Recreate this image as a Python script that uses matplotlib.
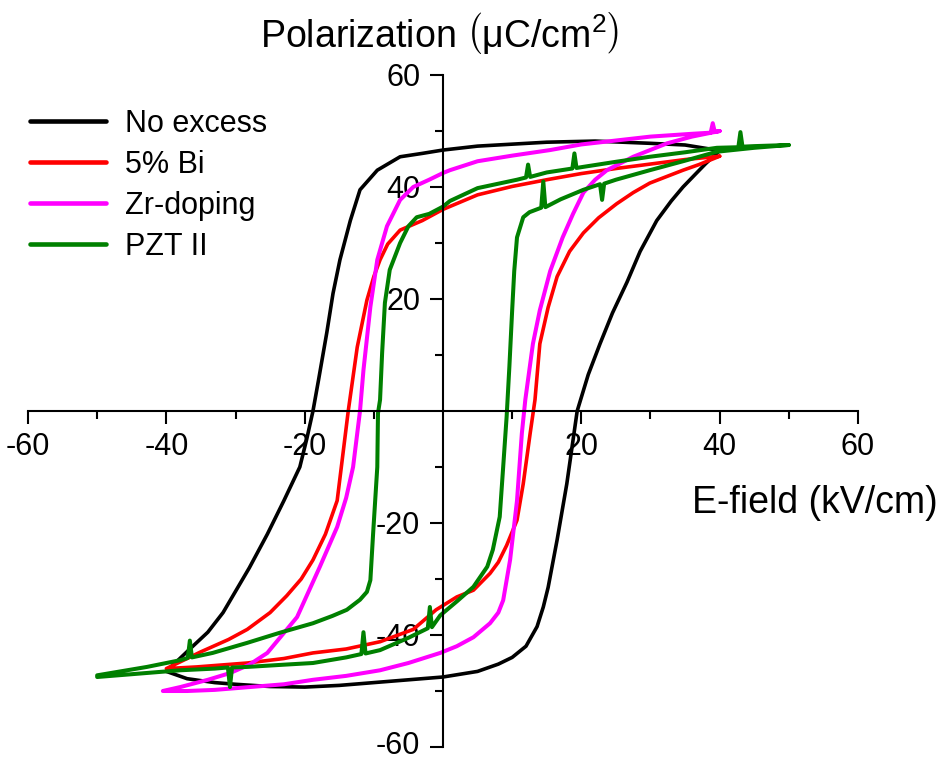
import matplotlib
matplotlib.use("Agg")
import matplotlib.pyplot as plt
from matplotlib.ticker import FixedLocator
from matplotlib.transforms import ScaledTranslation

plt.rcParams['font.family'] = ['Liberation Sans', 'DejaVu Sans']
plt.rcParams['mathtext.fontset'] = 'custom'
plt.rcParams['mathtext.rm'] = 'Liberation Sans'
plt.rcParams['mathtext.it'] = 'Liberation Sans:italic'

# ---------------- data (E in kV/cm, P in uC/cm^2) ----------------
labels = ["No excess", "5% Bi", "Zr-doping", "PZT II"]
colors = ["#000000", "#ff0000", "#ff00ff", "#008000"]

# No excess
black_up_E = [40, 35, 30, 22, 15, 5, 0, -3, -6.2, -9.5, -12, -13.4, -14.9, -15.9, -16.8, -18, -18.8, -19.7,
              -20.7, -23, -25.4, -28, -31.8, -34, -36.6, -40]
black_up_P = [46.5, 47.5, 47.8, 48.2, 48, 47.3, 46.6, 46, 45.4, 43, 39.5, 34, 27, 21, 14, 5.5, 0, -5,
              -10, -16, -22, -28, -36, -39.5, -42.5, -46.5]
black_lo_E = [-40, -37, -33, -30, -25, -20, -15, -10, -5, 0, 5, 8, 10, 12, 13.6, 14.5, 15.2, 16.5, 17.9,
              19.4, 21, 22.7, 24.5, 26.6, 28.5, 30.9, 33, 34.7, 36.5, 38, 40]
black_lo_P = [-46.5, -47.8, -48.5, -48.8, -49.2, -49.3, -49, -48.5, -48, -47.5, -46.5, -45.2, -44, -42,
              -38.5, -35, -31.5, -23, -13, 0, 6.5, 12, 17.5, 23, 28.5, 34, 37.5, 40, 42.3, 44.2, 46.5]

# 5% Bi
red_up_E = [40, 35, 30, 25, 20, 15, 10, 5, 0, -3, -6.2, -8, -9.1, -10, -11, -12.4, -13.7, -14.5, -15.3,
            -17, -18.8, -20.5, -22.6, -25, -28.3, -31, -35, -40]
red_up_P = [45.5, 44.9, 44.1, 43.3, 42.4, 41.3, 40.1, 38.6, 36, 34, 32.3, 29.8, 27, 24, 19.8, 11.4, 0, -8,
            -16, -22, -26.6, -30, -33, -36, -39, -40.8, -43, -46]
red_lo_E = [-40, -35.6, -28.3, -23, -18.8, -14, -9.1, -4.3, -1, 2, 4.4, 6.8, 8, 9.2, 10.7, 11.6, 12.6,
            13.3, 14, 15.2, 16.5, 18.3, 20.3, 22.5, 25.1, 27.5, 29.9, 34.7, 37, 40]
red_lo_P = [-46, -45.7, -45, -44.2, -43.2, -42.5, -41.2, -39, -35.5, -33.2, -32, -29, -27, -24, -19.5,
            -13, -4, 2, 12, 18.5, 24, 28.5, 31.8, 34.5, 37, 39, 40.7, 43, 44, 45.5]

# Zr-doping
mag_up_E = [40, 39.3, 39, 38.7, 36, 30, 25, 20, 15.5, 10, 5, 1, 0, -2, -4.3, -6.2, -8.1, -9.5, -10.5,
            -11.5, -12, -13, -14, -15.3, -17.8, -21.1, -25.4, -28, -30.8, -34, -38, -40.5]
mag_up_P = [50, 49.8, 51.4, 49.7, 49.5, 49, 48.3, 47.6, 46.6, 45.6, 44.6, 43, 42.5, 41.3, 40, 37.7, 33,
            27, 18.6, 7.3, 0, -10, -15.5, -20.7, -27.8, -36.8, -43.2, -45.3, -46.8, -48, -49.3, -50]
mag_lo_E = [-40.5, -37, -33, -28, -23, -18.8, -14, -9.1, -5, -0.4, 2, 4.4, 6.8, 8, 8.7, 9.7, 10.7, 11.4,
            11.9, 13, 14, 15.5, 17.3, 18.8, 20.3, 22, 23.7, 27.5, 32.4, 36, 40]
mag_lo_P = [-50, -50, -49.8, -49.3, -48.8, -48, -47.3, -46.3, -45, -43.2, -42, -40.4, -37.9, -36, -33.8,
            -26.6, -16, -4, 2, 12, 18, 25, 31, 35.2, 39, 41.3, 43, 45.4, 47.8, 49, 50]

# PZT II (a few narrow measurement spikes kept)
grn_up_E = [50, 45, 43.3, 43, 42.7, 39.6, 35, 29.9, 25, 20.3, 19.3, 19, 18.7, 15, 12.6, 12.3, 12, 10.7,
            5, 1, 0, -2, -3.8, -5, -6.2, -7.7, -8.4, -8.8, -9.1, -9.4, -9.5, -10.1, -10.5, -11, -12,
            -13.9, -16, -18.8, -23.6, -28.3, -33.3, -36.3, -36.6, -36.9, -38, -42.8, -50]
grn_up_P = [47.5, 47.3, 47.2, 49.8, 47.1, 47, 46.2, 45.4, 44.5, 43.6, 43.4, 46, 43.3, 42.6, 41.8, 44,
            41.7, 41.3, 39.8, 37.5, 36.5, 35.2, 34.6, 33, 30, 25.2, 19.3, 10.4, 2, -0.4, -10, -21.8,
            -30.2, -32.3, -33.7, -35.5, -36.6, -37.9, -39.6, -41.4, -43.2, -44, -41, -44.1, -44.5,
            -45.7, -47.2]
grn_lo_E = [-50, -45, -38, -33, -31.1, -30.8, -30.5, -28.3, -23, -18.8, -14, -11.8, -11.5, -11.2, -9.1,
            -5, -2.2, -1.9, -1.6, -0.4, 2, 4.4, 6.4, 7.2, 8.2, 8.7, 9.2, 9.6, 10, 10.3, 10.7, 11.6, 12.5,
            14.2, 14.5, 14.8, 17, 20.3, 22.7, 23, 23.3, 25, 29.9, 35, 39.6, 45, 50]
grn_lo_P = [-47.5, -47, -46.3, -46, -45.8, -49.3, -45.8, -45.7, -45.3, -45, -44, -43.4, -39.5, -43.3,
            -42.7, -40.5, -38.8, -35, -38.6, -36.5, -34, -31.4, -27.8, -24.8, -18.9, -10, -1, 8, 18, 25,
            31, 34.6, 35.5, 36.3, 41, 36.4, 37.8, 39.5, 40.5, 37.7, 40.6, 41.3, 43, 44.7, 46.3, 47, 47.5]

loops = [
    (black_up_E + black_lo_E, black_up_P + black_lo_P),
    (red_up_E + red_lo_E, red_up_P + red_lo_P),
    (mag_up_E + mag_lo_E, mag_up_P + mag_lo_P),
    (grn_up_E + grn_lo_E, grn_up_P + grn_lo_P),
]
widths = [2.6, 2.6, 2.9, 2.9]

x_major = [-60, -40, -20, 20, 40, 60]
x_minor = [-50, -30, -10, 10, 30, 50]
y_major = [-60, -40, -20, 20, 40, 60]
y_minor = [-50, -30, -10, 10, 30, 50]

# ---------------- figure ----------------
W, H = 945, 760
fig = plt.figure(figsize=(W / 100, H / 100), dpi=100)
ax = fig.add_axes([28 / W, 1 - 747 / H, 830 / W, 672 / H])
ax.set_xlim(-60, 60)
ax.set_ylim(-60, 60)

for (E, P), c, lab, lw in zip(loops, colors, labels, widths):
    ax.plot(E, P, color=c, lw=lw, label=lab, solid_joinstyle='round', solid_capstyle='round')

ax.spines['left'].set_position('zero')
ax.spines['bottom'].set_position('zero')
ax.spines['top'].set_visible(False)
ax.spines['right'].set_visible(False)
for s in ('left', 'bottom'):
    ax.spines[s].set_linewidth(1.5)

ax.xaxis.set_major_locator(FixedLocator(x_major))
ax.xaxis.set_minor_locator(FixedLocator(x_minor))
ax.yaxis.set_major_locator(FixedLocator(y_major))
ax.yaxis.set_minor_locator(FixedLocator(y_minor))
ax.set_xticklabels([str(v) for v in x_major])
ax.set_yticklabels([str(v) for v in y_major])

ax.tick_params(axis='both', which='major', length=9.4, width=1.5, direction='out', labelsize=22)
ax.tick_params(axis='both', which='minor', length=5.5, width=1.5, direction='out')
ax.tick_params(axis='x', which='major', pad=6)
ax.tick_params(axis='y', which='major', pad=7)
ax.set_axisbelow(True)

# keep the bottom "-60" label fully inside the canvas
bottom_lab = ax.get_yticklabels()[0]
bottom_lab.set_transform(bottom_lab.get_transform() + ScaledTranslation(0, 4 / 100, fig.dpi_scale_trans))

fig.text(260 / W, 1 - 47 / H, r"Polarization $\left(\mathrm{\mu C/cm}^{2}\right)$", fontsize=27,
         ha='left', va='baseline')
fig.text(692 / W, 1 - 513 / H, "E-field (kV/cm)", fontsize=27, ha='left', va='baseline')

leg = ax.legend(loc='upper left', bbox_to_anchor=(30 / W, 1 - 109 / H), bbox_transform=fig.transFigure,
                frameon=False, fontsize=22, handlelength=2.5, handletextpad=0.6, labelspacing=0.36,
                borderaxespad=0, borderpad=0)
for l in leg.get_lines():
    l.set_linewidth(3.3)

fig.savefig("out.png", dpi=100)
